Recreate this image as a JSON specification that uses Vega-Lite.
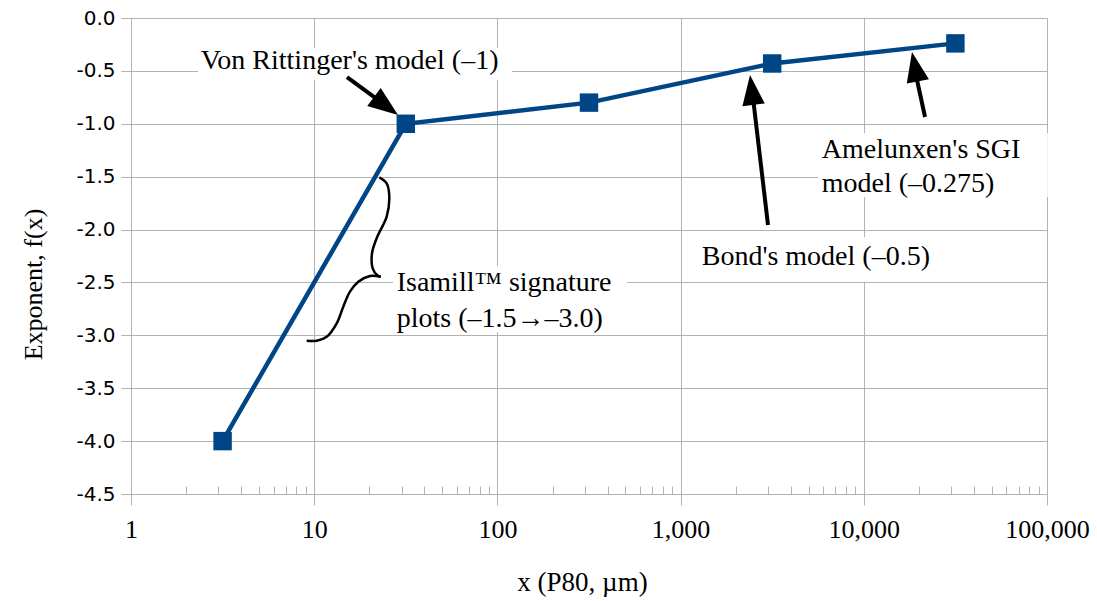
{
  "$schema": "https://vega.github.io/schema/vega-lite/v6.json",
  "width": 916,
  "height": 476,
  "autosize": {"type": "none"},
  "padding": {"left": 131, "top": 18, "right": 50, "bottom": 107},
  "background": "white",
  "config": {"view": {"stroke": null}, "font": "Liberation Serif"},
  "datasets": {
    "series": [
      {"x": 3.162, "y": -4.0},
      {"x": 31.62, "y": -1.0},
      {"x": 316.2, "y": -0.8},
      {"x": 3162, "y": -0.43},
      {"x": 31623, "y": -0.24}
    ],
    "boxes": [
      {"x": 2.322, "xe": 120.1, "y": -0.284, "ye": -0.586},
      {"x": 26.92, "xe": 509.9, "y": -2.345, "ye": -2.968},
      {"x": 1214, "xe": 28100, "y": -2.07, "ye": -2.496},
      {"x": 5623, "xe": 101000, "y": -1.087, "ye": -1.692}
    ],
    "shafts": [
      {"x": 15.1, "y": -0.558, "xe": 22.3, "ye": -0.775},
      {"x": 3000, "y": -1.957, "xe": 2500, "ye": -0.794},
      {"x": 21590, "y": -0.936, "xe": 19520, "ye": -0.586}
    ],
    "heads": [
      {"x": 24.66, "y": -0.832, "a": 126.7},
      {"x": 2447, "y": -0.68, "a": 353.2},
      {"x": 19010, "y": -0.46, "a": 348.7}
    ],
    "labels": [
      {"x": 2.402, "y": -0.482, "t": "Von Rittinger's model (–1)"},
      {"x": 28.2, "y": -2.578, "t": "Isamill™ signature"},
      {"x": 28.2, "y": -2.918, "t": "plots (–1.5→–3.0)"},
      {"x": 1304, "y": -2.335, "t": "Bond's model (–0.5)"},
      {"x": 5891, "y": -1.326, "t": "Amelunxen's SGI"},
      {"x": 5891, "y": -1.642, "t": "model (–0.275)"}
    ],
    "brace": [
      {"p": "upper", "i": 1, "x": 22.67, "y": -1.506},
      {"p": "upper", "i": 2, "x": 24.87, "y": -1.563},
      {"p": "upper", "i": 3, "x": 25.7, "y": -1.689},
      {"p": "upper", "i": 4, "x": 24.87, "y": -1.878},
      {"p": "upper", "i": 5, "x": 22.1, "y": -2.068},
      {"p": "upper", "i": 6, "x": 20.68, "y": -2.224},
      {"p": "upper", "i": 7, "x": 20.86, "y": -2.366},
      {"p": "upper", "i": 8, "x": 22.1, "y": -2.432},
      {"p": "upper", "i": 9, "x": 23.07, "y": -2.446},
      {"p": "lower", "i": 9, "x": 23.07, "y": -2.446},
      {"p": "lower", "i": 10, "x": 20.16, "y": -2.439},
      {"p": "lower", "i": 11, "x": 17.41, "y": -2.493},
      {"p": "lower", "i": 12, "x": 15.68, "y": -2.587},
      {"p": "lower", "i": 13, "x": 14.41, "y": -2.729},
      {"p": "lower", "i": 14, "x": 13.27, "y": -2.886},
      {"p": "lower", "i": 15, "x": 11.7, "y": -3.013},
      {"p": "lower", "i": 16, "x": 10.32, "y": -3.051},
      {"p": "lower", "i": 17, "x": 9.1, "y": -3.051}
    ]
  },
  "layer": [
    {
      "data": {"name": "boxes"},
      "mark": {"type": "rect", "fill": "white", "strokeWidth": 0},
      "encoding": {
        "x": {
          "field": "x", "type": "quantitative",
          "scale": {"type": "log", "domain": [1, 100000], "nice": false},
          "axis": {
            "orient": "bottom",
            "title": "x (P80, µm)",
            "values": [1, 10, 100, 1000, 10000, 100000],
            "format": ",d",
            "labelFlush": false,
            "labelOverlap": false,
            "grid": true,
            "gridColor": "#b3b3b3",
            "domainColor": "#b3b3b3",
            "tickColor": "#b3b3b3",
            "tickSize": 11,
            "labelFont": "Liberation Serif",
            "labelFontSize": 26,
            "labelColor": "black",
            "labelBaseline": "alphabetic",
            "labelPadding": 32,
            "titleFont": "Liberation Serif",
            "titleFontSize": 27,
            "titleFontWeight": "normal",
            "titleColor": "black",
            "titleX": 451,
            "titleY": 96,
            "titleBaseline": "alphabetic",
            "titleAlign": "center"
          }
        },
        "x2": {"field": "xe"},
        "y": {
          "field": "y", "type": "quantitative",
          "scale": {"domain": [-4.5, 0], "nice": false, "zero": false},
          "title": "Exponent, f(x)",
          "axis": {
            "values": [-4.5, -4, -3.5, -3, -2.5, -2, -1.5, -1, -0.5, 0],
            "labelExpr": "datum.value < 0 ? '-' + format(-datum.value, '.1f') : format(datum.value, '.1f')",
            "grid": true,
            "gridColor": "#b3b3b3",
            "domainColor": "#b3b3b3",
            "tickColor": "#b3b3b3",
            "tickSize": 10,
            "labelPadding": 6,
            "labelFont": "DejaVu Sans",
            "labelFontSize": 20,
            "labelColor": "black",
            "titleFont": "Liberation Serif",
            "titleFontSize": 26,
            "titleFontWeight": "normal",
            "titleColor": "black",
            "titleX": -90,
            "titleY": 266,
            "titleAngle": -90,
            "titleAlign": "center",
            "titleBaseline": "alphabetic"
          }
        },
        "y2": {"field": "ye"}
      }
    },
    {
      "data": {"name": "brace"},
      "mark": {"type": "line", "color": "black", "strokeWidth": 2.5, "interpolate": "catmull-rom"},
      "encoding": {
        "x": {"field": "x", "type": "quantitative", "axis": null},
        "y": {"field": "y", "type": "quantitative", "title": "Exponent, f(x)"},
        "detail": {"field": "p", "type": "nominal"},
        "order": {"field": "i", "type": "quantitative"}
      }
    },
    {
      "data": {"name": "shafts"},
      "mark": {"type": "rule", "color": "black", "strokeWidth": 4},
      "encoding": {
        "x": {"field": "x", "type": "quantitative", "axis": null},
        "x2": {"field": "xe"},
        "y": {"field": "y", "type": "quantitative", "title": "Exponent, f(x)"},
        "y2": {"field": "ye"}
      }
    },
    {
      "data": {"name": "heads"},
      "mark": {"type": "point", "shape": "M0,-1L0.75,1L-0.75,1Z", "filled": true, "color": "black", "opacity": 1, "size": 900, "strokeWidth": 0},
      "encoding": {
        "x": {"field": "x", "type": "quantitative", "axis": null},
        "y": {"field": "y", "type": "quantitative", "title": "Exponent, f(x)"},
        "angle": {"field": "a", "type": "quantitative", "scale": null}
      }
    },
    {
      "data": {"name": "series"},
      "mark": {"type": "line", "color": "#004586", "strokeWidth": 4.5},
      "encoding": {
        "x": {
          "field": "x", "type": "quantitative",
          "axis": {
            "orient": "bottom",
            "title": null,
            "values": [2, 3, 4, 5, 6, 7, 8, 9, 20, 30, 40, 50, 60, 70, 80, 90, 200, 300, 400, 500, 600, 700, 800, 900, 2000, 3000, 4000, 5000, 6000, 7000, 8000, 9000, 20000, 30000, 40000, 50000, 60000, 70000, 80000, 90000],
            "labels": false,
            "grid": false,
            "domain": false,
            "ticks": true,
            "tickSize": -8,
            "tickColor": "#b3b3b3"
          }
        },
        "y": {"field": "y", "type": "quantitative", "title": "Exponent, f(x)"}
      }
    },
    {
      "data": {"name": "series"},
      "mark": {"type": "point", "shape": "square", "size": 340, "filled": true, "color": "#004586", "opacity": 1},
      "encoding": {
        "x": {"field": "x", "type": "quantitative", "axis": null},
        "y": {"field": "y", "type": "quantitative", "title": "Exponent, f(x)"}
      }
    },
    {
      "data": {"name": "labels"},
      "mark": {"type": "text", "align": "left", "baseline": "alphabetic", "font": "Liberation Serif", "fontSize": 28, "color": "black"},
      "encoding": {
        "x": {"field": "x", "type": "quantitative", "axis": null},
        "y": {"field": "y", "type": "quantitative", "title": "Exponent, f(x)"},
        "text": {"field": "t", "type": "nominal"}
      }
    }
  ],
  "resolve": {"axis": {"x": "independent"}}
}
